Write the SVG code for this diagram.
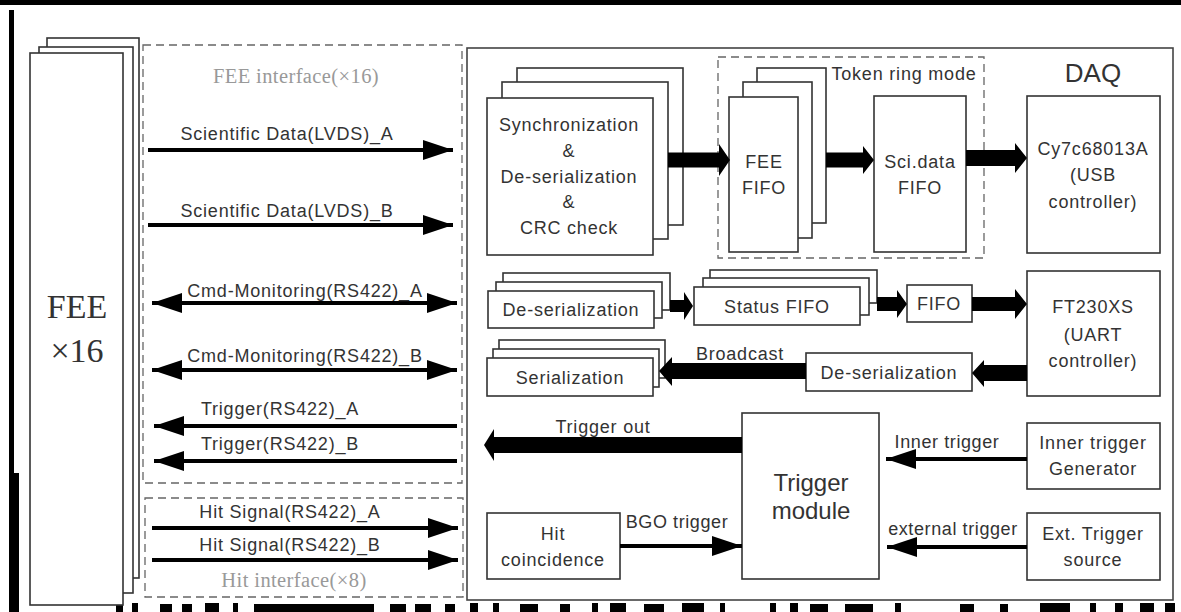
<svg xmlns="http://www.w3.org/2000/svg" width="1181" height="612" viewBox="0 0 1181 612">
<defs>
<style>
.bx{fill:#fff;stroke:#333;stroke-width:1.6}
.dash{fill:none;stroke:#666;stroke-width:1.3;stroke-dasharray:8 5}
.t{font-family:"Liberation Sans",Arial,sans-serif;font-size:18px;letter-spacing:0.8px;fill:#333;text-anchor:middle}
.tl{font-family:"Liberation Sans",Arial,sans-serif;font-size:18px;letter-spacing:0.6px;fill:#333;text-anchor:middle}
.gr{font-family:"Liberation Serif","Times New Roman",serif;font-size:20.5px;letter-spacing:0.4px;fill:#999;text-anchor:middle}
.ln{stroke:#000;stroke-width:4;fill:none}
.big{fill:#000}
</style>
<marker id="ah" markerUnits="userSpaceOnUse" markerWidth="30" markerHeight="20" refX="30" refY="10" orient="auto-start-reverse" viewBox="0 0 30 20">
<path d="M0,0 L30,10 L0,20 z" fill="#000"/>
</marker>
</defs>
<rect width="1181" height="612" fill="#fff"/>
<g id="artifacts" fill="#000">
<rect x="0" y="0" width="1181" height="5"/>
<rect x="9" y="10" width="5" height="470"/>
<rect x="9" y="473" width="10" height="139"/>
<rect x="116" y="603" width="7" height="9"/>
<rect x="132" y="603" width="6" height="9"/>
<rect x="160" y="604" width="12" height="8"/>
<rect x="182" y="604" width="10" height="8"/>
<rect x="205" y="603" width="14" height="9"/>
<rect x="233" y="603" width="5" height="9"/>
<rect x="254" y="604" width="120" height="8"/>
<rect x="390" y="604" width="16" height="8"/>
<rect x="415" y="604" width="16" height="8"/>
<rect x="445" y="604" width="10" height="8"/>
<rect x="470" y="603" width="8" height="9"/>
<rect x="493" y="603" width="6" height="9"/>
<rect x="520" y="604" width="18" height="8"/>
<rect x="560" y="604" width="10" height="8"/>
<rect x="592" y="603" width="6" height="9"/>
<rect x="610" y="603" width="16" height="9"/>
<rect x="644" y="604" width="20" height="8"/>
<rect x="682" y="603" width="22" height="9"/>
<rect x="720" y="603" width="5" height="9"/>
<rect x="770" y="603" width="6" height="9"/>
<rect x="790" y="603" width="8" height="9"/>
<rect x="810" y="604" width="18" height="8"/>
<rect x="845" y="604" width="28" height="8"/>
<rect x="895" y="603" width="6" height="9"/>
<rect x="960" y="604" width="14" height="8"/>
<rect x="1000" y="604" width="8" height="8"/>
<rect x="1040" y="603" width="30" height="9"/>
<rect x="1090" y="603" width="6" height="9"/>
<rect x="1115" y="603" width="8" height="9"/>
<rect x="1140" y="603" width="14" height="9"/>
<rect x="1165" y="603" width="10" height="9"/>
</g>

<g id="fee">
<rect class="bx" x="47" y="38" width="92" height="540"/>
<rect class="bx" x="39" y="47" width="94" height="546"/>
<rect class="bx" x="30" y="53" width="93" height="552"/>
<text x="77" y="318" font-family="Liberation Serif,'Times New Roman',serif" font-size="34" fill="#333" text-anchor="middle">FEE</text>
<text x="77" y="362" font-family="Liberation Serif,'Times New Roman',serif" font-size="34" fill="#333" text-anchor="middle">×16</text>
</g>

<g id="fee-interface">
<rect class="dash" x="143" y="45" width="319" height="438"/>
<text class="gr" x="296" y="83">FEE interface(×16)</text>
</g>
<g id="hit-interface">
<rect class="dash" x="145" y="498" width="318" height="99"/>
<text class="gr" x="294" y="587">Hit interface(×8)</text>
</g>

<g id="daq">
<rect x="467" y="48" width="706" height="552" fill="none" stroke="#444" stroke-width="1.6"/>
<text x="1093" y="82" font-family="'Liberation Sans',Arial,sans-serif" font-size="26" fill="#333" text-anchor="middle">DAQ</text>
</g>

<g id="token-ring">
<rect class="dash" x="718" y="57" width="266" height="201"/>
<text class="t" x="904" y="80">Token ring mode</text>
</g>

<g id="sync">
<rect class="bx" x="517" y="68" width="166" height="157"/>
<rect class="bx" x="502" y="82" width="166" height="157"/>
<rect class="bx" x="487" y="98" width="166" height="157"/>
<text class="t" x="569" y="131">Synchronization</text>
<text class="t" x="569" y="157">&amp;</text>
<text class="t" x="569" y="183">De-serialization</text>
<text class="t" x="569" y="208">&amp;</text>
<text class="t" x="569" y="234">CRC check</text>
</g>

<g id="fee-fifo">
<rect class="bx" x="757" y="68" width="69" height="155"/>
<rect class="bx" x="743" y="82" width="69" height="156"/>
<rect class="bx" x="729" y="97" width="69" height="155"/>
<text class="t" x="764" y="168">FEE</text>
<text class="t" x="764" y="194">FIFO</text>
</g>

<g id="sci-fifo">
<rect class="bx" x="874" y="96" width="92" height="156"/>
<text class="t" x="920" y="168">Sci.data</text>
<text class="t" x="920" y="194">FIFO</text>
</g>

<g id="usb">
<rect class="bx" x="1027" y="96" width="133" height="157"/>
<text class="t" x="1093" y="155">Cy7c68013A</text>
<text class="t" x="1093" y="181">(USB</text>
<text class="t" x="1093" y="208">controller)</text>
</g>

<g id="deser-left">
<rect class="bx" x="503" y="273" width="167" height="37"/>
<rect class="bx" x="496" y="282" width="166" height="36"/>
<rect class="bx" x="488" y="291" width="166" height="37"/>
<text class="t" x="571" y="316">De-serialization</text>
</g>

<g id="status-fifo">
<rect class="bx" x="710" y="270" width="167" height="33"/>
<rect class="bx" x="703" y="278" width="166" height="37"/>
<rect class="bx" x="694" y="287" width="166" height="38"/>
<text class="t" x="777" y="313">Status FIFO</text>
</g>

<g id="fifo">
<rect class="bx" x="907" y="285" width="65" height="37"/>
<text class="t" x="939" y="310">FIFO</text>
</g>

<g id="uart">
<rect class="bx" x="1027" y="271" width="133" height="125"/>
<text class="t" x="1093" y="313">FT230XS</text>
<text class="t" x="1093" y="341">(UART</text>
<text class="t" x="1093" y="367">controller)</text>
</g>

<g id="serialization">
<rect class="bx" x="499" y="340" width="166" height="38"/>
<rect class="bx" x="493" y="349" width="166" height="38"/>
<rect class="bx" x="487" y="358" width="166" height="38"/>
<text class="t" x="570" y="384">Serialization</text>
</g>

<g id="deser-right">
<rect class="bx" x="806" y="353" width="166" height="38"/>
<text class="t" x="889" y="379">De-serialization</text>
</g>

<g id="trigger-module">
<rect class="bx" x="742" y="413" width="137" height="166"/>
<text x="811" y="491" font-family="'Liberation Sans',Arial,sans-serif" font-size="24" fill="#333" text-anchor="middle">Trigger</text>
<text x="811" y="519" font-family="'Liberation Sans',Arial,sans-serif" font-size="24" fill="#333" text-anchor="middle">module</text>
</g>

<g id="hit-coincidence">
<rect class="bx" x="487" y="513" width="133" height="66"/>
<text class="t" x="553" y="540">Hit</text>
<text class="t" x="553" y="566">coincidence</text>
</g>

<g id="inner-gen">
<rect class="bx" x="1027" y="423" width="133" height="66"/>
<text class="t" x="1093" y="449">Inner trigger</text>
<text class="t" x="1093" y="475">Generator</text>
</g>

<g id="ext-source">
<rect class="bx" x="1027" y="513" width="133" height="67"/>
<text class="t" x="1093" y="540">Ext. Trigger</text>
<text class="t" x="1093" y="566">source</text>
</g>

<g id="connectors">
<line class="ln" x1="148" y1="150" x2="453" y2="150" marker-end="url(#ah)"/>
<line class="ln" x1="148" y1="225" x2="453" y2="225" marker-end="url(#ah)"/>
<line class="ln" x1="152" y1="303" x2="457" y2="303" marker-start="url(#ah)" marker-end="url(#ah)"/>
<line class="ln" x1="152" y1="370" x2="457" y2="370" marker-start="url(#ah)" marker-end="url(#ah)"/>
<line class="ln" x1="457" y1="426" x2="154" y2="426" marker-end="url(#ah)"/>
<line class="ln" x1="457" y1="461" x2="154" y2="461" marker-end="url(#ah)"/>
<line class="ln" x1="152" y1="528" x2="458" y2="528" marker-end="url(#ah)"/>
<line class="ln" x1="152" y1="560" x2="458" y2="560" marker-end="url(#ah)"/>
<polygon class="big" points="668,152.5 719,152.5 719,144 730,160 719,176 719,167.5 668,167.5"/>
<polygon class="big" points="826,152.5 863,152.5 863,146 874,160 863,174 863,167.5 826,167.5"/>
<polygon class="big" points="966,150 1015,150 1015,143 1027,158 1015,173 1015,166 966,166"/>
<polygon class="big" points="670,300 684,300 684,292 693,306 684,320 684,312 670,312"/>
<polygon class="big" points="877,297 897,297 897,290 907,304 897,318 897,311 877,311"/>
<polygon class="big" points="972,297 1015,297 1015,289 1027,304 1015,319 1015,311 972,311"/>
<polygon class="big" points="1027,365 984,365 984,360 972,373 984,387 984,381 1027,381"/>
<polygon class="big" points="806,363 672,363 672,357 659,371 672,386 672,379 806,379"/>
<polygon class="big" points="742,437 494,437 494,429 484,445 494,461 494,453 742,453"/>
<line class="ln" x1="620" y1="546" x2="742" y2="546" stroke-width="3.5" marker-end="url(#ah)"/>
<line class="ln" x1="1027" y1="459" x2="886" y2="459" marker-end="url(#ah)"/>
<line class="ln" x1="1027" y1="547" x2="887" y2="547" marker-end="url(#ah)"/>
</g>

<g id="labels">
<text class="t" x="287" y="140">Scientific Data(LVDS)_A</text>
<text class="t" x="287" y="217">Scientific Data(LVDS)_B</text>
<text class="t" x="305" y="297">Cmd-Monitoring(RS422)_A</text>
<text class="t" x="305" y="362">Cmd-Monitoring(RS422)_B</text>
<text class="t" x="280" y="415">Trigger(RS422)_A</text>
<text class="t" x="280" y="450">Trigger(RS422)_B</text>
<text class="t" x="290" y="518">Hit Signal(RS422)_A</text>
<text class="t" x="290" y="551">Hit Signal(RS422)_B</text>
<text class="t" x="740" y="360">Broadcast</text>
<text class="t" x="603" y="433">Trigger out</text>
<text class="tl" x="677" y="528">BGO trigger</text>
<text class="tl" x="947" y="448">Inner trigger</text>
<text class="tl" x="953" y="535">external trigger</text>
</g>
</svg>
